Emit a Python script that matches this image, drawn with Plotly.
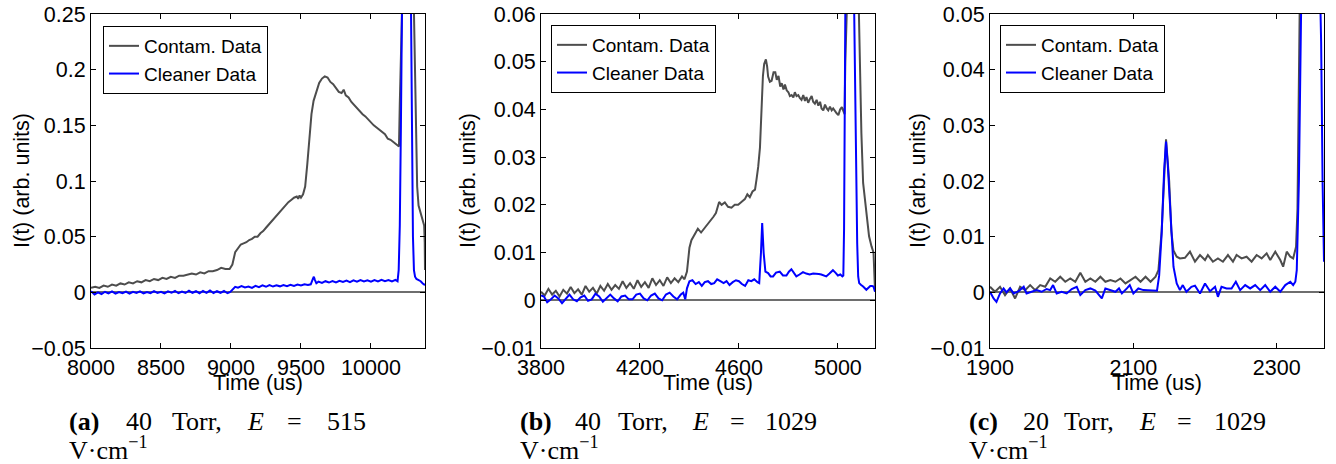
import plotly.graph_objects as go

W, H = 1336, 464

# ---------------- data ----------------
# Panel (a): 40 Torr, E = 515 V/cm
A_CONTAM = [
    (8000, 0.0040), (8030, 0.0050), (8060, 0.0040), (8090, 0.0060), (8120, 0.0050),
    (8150, 0.0070), (8180, 0.0060), (8210, 0.0080), (8240, 0.0070), (8270, 0.0090),
    (8300, 0.0080), (8330, 0.0100), (8360, 0.0090), (8390, 0.0110), (8420, 0.0100),
    (8450, 0.0120), (8480, 0.0110), (8510, 0.0130), (8540, 0.0120), (8570, 0.0140),
    (8600, 0.0130), (8630, 0.0150), (8660, 0.0150), (8690, 0.0160), (8720, 0.0170),
    (8750, 0.0160), (8780, 0.0180), (8810, 0.0170), (8840, 0.0190), (8870, 0.0190),
    (8900, 0.0200), (8930, 0.0220), (8960, 0.0210), (8990, 0.0210), (9010, 0.0250),
    (9030, 0.0360), (9050, 0.0400), (9070, 0.0430), (9090, 0.0440), (9110, 0.0450),
    (9130, 0.0470), (9150, 0.0480), (9170, 0.0500), (9190, 0.0500), (9210, 0.0530),
    (9230, 0.0550), (9250, 0.0580), (9270, 0.0610), (9290, 0.0630), (9310, 0.0670),
    (9330, 0.0700), (9350, 0.0730), (9370, 0.0760), (9390, 0.0790), (9410, 0.0810),
    (9430, 0.0830), (9450, 0.0850), (9470, 0.0860), (9480, 0.0840), (9490, 0.0870),
    (9500, 0.0850), (9515, 0.0880), (9530, 0.0950), (9545, 0.1150), (9560, 0.1400),
    (9575, 0.1600), (9590, 0.1720), (9610, 0.1810), (9630, 0.1880), (9650, 0.1920),
    (9670, 0.1940), (9690, 0.1930), (9710, 0.1890), (9730, 0.1870), (9750, 0.1840),
    (9770, 0.1800), (9790, 0.1790), (9805, 0.1820), (9820, 0.1770), (9840, 0.1750),
    (9860, 0.1710), (9880, 0.1680), (9900, 0.1660), (9920, 0.1630), (9940, 0.1600),
    (9960, 0.1580), (9980, 0.1550), (10000, 0.1530), (10020, 0.1500), (10040, 0.1480),
    (10060, 0.1460), (10080, 0.1440), (10100, 0.1420), (10120, 0.1380), (10140, 0.1370),
    (10160, 0.1350), (10180, 0.1330), (10200, 0.1310), (10206, 0.1700), (10214, 0.2600),
    (10230, 0.4200), (10270, 0.5000), (10300, 0.3000), (10310, 0.2200), (10320, 0.1400),
    (10330, 0.0950), (10340, 0.0780), (10355, 0.0720), (10370, 0.0660), (10380, 0.0600),
    (10384, 0.0450), (10386, 0.0200),
]
A_CLEAN = [
    (8000, 0.0010), (8025, -0.0020), (8050, 0.0000), (8075, -0.0015), (8100, 0.0005),
    (8125, -0.0010), (8150, 0.0008), (8175, -0.0012), (8200, 0.0002), (8225, -0.0008),
    (8250, 0.0006), (8275, -0.0012), (8300, 0.0004), (8325, -0.0006), (8350, 0.0008),
    (8375, -0.0010), (8400, 0.0002), (8425, -0.0008), (8450, 0.0010), (8475, -0.0006),
    (8500, 0.0004), (8525, -0.0010), (8550, 0.0008), (8575, -0.0004), (8600, 0.0012),
    (8625, -0.0008), (8650, 0.0006), (8675, -0.0006), (8700, 0.0014), (8725, -0.0004),
    (8750, 0.0010), (8775, -0.0008), (8800, 0.0012), (8825, -0.0004), (8850, 0.0016),
    (8875, -0.0006), (8900, 0.0010), (8925, -0.0004), (8950, 0.0012), (8975, -0.0008),
    (8995, 0.0004), (9010, 0.0020), (9030, 0.0050), (9050, 0.0042), (9075, 0.0056),
    (9100, 0.0044), (9125, 0.0052), (9150, 0.0040), (9175, 0.0058), (9200, 0.0046),
    (9225, 0.0062), (9250, 0.0050), (9275, 0.0066), (9300, 0.0052), (9325, 0.0064),
    (9350, 0.0054), (9375, 0.0066), (9400, 0.0056), (9425, 0.0068), (9450, 0.0058),
    (9475, 0.0070), (9500, 0.0062), (9525, 0.0072), (9550, 0.0066), (9570, 0.0072),
    (9585, 0.0120), (9592, 0.0140), (9600, 0.0110), (9610, 0.0082), (9625, 0.0096),
    (9650, 0.0084), (9675, 0.0100), (9700, 0.0088), (9725, 0.0102), (9750, 0.0090),
    (9775, 0.0104), (9800, 0.0094), (9825, 0.0106), (9850, 0.0092), (9875, 0.0108),
    (9900, 0.0096), (9925, 0.0110), (9950, 0.0098), (9975, 0.0108), (10000, 0.0096),
    (10025, 0.0110), (10050, 0.0098), (10075, 0.0112), (10100, 0.0100), (10125, 0.0110),
    (10150, 0.0098), (10175, 0.0112), (10190, 0.0100), (10198, 0.0200), (10206, 0.0600),
    (10214, 0.1500), (10222, 0.2600), (10232, 0.4000), (10254, 0.7000), (10276, 0.4000),
    (10284, 0.2500), (10292, 0.1300), (10300, 0.0500), (10307, 0.0200), (10315, 0.0140),
    (10325, 0.0120), (10340, 0.0110), (10355, 0.0100), (10370, 0.0080), (10386, 0.0065),
]
A_XTICKS = [8000, 8500, 9000, 9500, 10000]
A_YTICKS = [-0.05, 0, 0.05, 0.1, 0.15, 0.2, 0.25]
A_YTEXT = ["\u22120.05", "0", "0.05", "0.1", "0.15", "0.2", "0.25"]

# Panel (b): 40 Torr, E = 1029 V/cm
B_CONTAM = [
    (3800, 0.0018), (3815, 0.0010), (3830, 0.0024), (3845, 0.0012), (3860, 0.0020),
    (3875, 0.0008), (3890, 0.0022), (3905, 0.0014), (3920, 0.0028), (3935, 0.0015),
    (3950, 0.0023), (3965, 0.0012), (3980, 0.0030), (3995, 0.0018), (4010, 0.0026),
    (4025, 0.0014), (4040, 0.0030), (4055, 0.0020), (4070, 0.0034), (4085, 0.0022),
    (4100, 0.0032), (4115, 0.0024), (4130, 0.0040), (4145, 0.0026), (4160, 0.0036),
    (4175, 0.0024), (4190, 0.0042), (4205, 0.0028), (4220, 0.0038), (4235, 0.0026),
    (4250, 0.0046), (4265, 0.0032), (4280, 0.0042), (4295, 0.0030), (4310, 0.0048),
    (4325, 0.0036), (4340, 0.0046), (4355, 0.0038), (4370, 0.0050), (4380, 0.0044),
    (4390, 0.0060), (4400, 0.0110), (4408, 0.0126), (4420, 0.0138), (4434, 0.0150),
    (4447, 0.0142), (4460, 0.0150), (4473, 0.0158), (4487, 0.0168), (4497, 0.0175),
    (4507, 0.0183), (4514, 0.0198), (4520, 0.0206), (4530, 0.0200), (4543, 0.0205),
    (4556, 0.0196), (4570, 0.0194), (4583, 0.0200), (4597, 0.0200), (4610, 0.0206),
    (4624, 0.0212), (4634, 0.0222), (4644, 0.0216), (4655, 0.0228), (4665, 0.0232),
    (4671, 0.0253), (4678, 0.0280), (4685, 0.0320), (4691, 0.0420), (4697, 0.0470),
    (4702, 0.0495), (4709, 0.0505), (4714, 0.0490), (4718, 0.0469), (4725, 0.0458),
    (4732, 0.0460), (4740, 0.0478), (4747, 0.0478), (4753, 0.0462), (4760, 0.0470),
    (4767, 0.0448), (4773, 0.0455), (4780, 0.0442), (4786, 0.0452), (4793, 0.0440),
    (4800, 0.0436), (4806, 0.0428), (4813, 0.0430), (4820, 0.0425), (4826, 0.0436),
    (4833, 0.0428), (4840, 0.0430), (4846, 0.0424), (4853, 0.0420), (4860, 0.0430),
    (4867, 0.0418), (4873, 0.0426), (4880, 0.0414), (4887, 0.0422), (4894, 0.0428),
    (4900, 0.0416), (4907, 0.0412), (4914, 0.0420), (4921, 0.0408), (4928, 0.0416),
    (4934, 0.0402), (4941, 0.0398), (4948, 0.0410), (4955, 0.0402), (4961, 0.0398),
    (4968, 0.0406), (4975, 0.0398), (4981, 0.0402), (4988, 0.0396), (4995, 0.0392),
    (5002, 0.0388), (5009, 0.0400), (5016, 0.0405), (5022, 0.0396), (5027, 0.0390),
    (5030, 0.0500), (5040, 0.1000), (5070, 0.1200), (5083, 0.0650), (5090, 0.0450),
    (5095, 0.0350), (5102, 0.0246), (5109, 0.0210), (5116, 0.0183), (5126, 0.0134),
    (5136, 0.0113), (5144, 0.0100), (5150, 0.0020),
]
B_CLEAN = [
    (3800, 0.0010), (3812, 0.0008), (3825, -0.0004), (3840, 0.0002), (3855, 0.0010),
    (3870, 0.0004), (3885, -0.0006), (3900, 0.0004), (3915, 0.0012), (3930, 0.0002),
    (3945, -0.0002), (3960, 0.0006), (3975, 0.0010), (3990, -0.0001), (4005, 0.0002),
    (4020, 0.0014), (4035, 0.0008), (4050, -0.0003), (4065, 0.0004), (4080, 0.0012),
    (4095, 0.0004), (4110, -0.0002), (4125, 0.0008), (4140, 0.0010), (4155, 0.0002),
    (4170, 0.0002), (4185, 0.0012), (4200, 0.0014), (4215, 0.0004), (4230, 0.0000),
    (4245, 0.0010), (4260, 0.0014), (4275, 0.0004), (4290, 0.0000), (4305, 0.0012),
    (4320, 0.0016), (4335, 0.0008), (4350, 0.0002), (4365, 0.0012), (4375, 0.0016),
    (4383, 0.0002), (4390, 0.0025), (4400, 0.0040), (4412, 0.0042), (4425, 0.0034),
    (4438, 0.0038), (4450, 0.0030), (4462, 0.0038), (4475, 0.0040), (4488, 0.0034),
    (4500, 0.0036), (4512, 0.0044), (4525, 0.0040), (4538, 0.0036), (4550, 0.0040),
    (4562, 0.0032), (4575, 0.0038), (4588, 0.0042), (4600, 0.0040), (4612, 0.0034),
    (4625, 0.0030), (4638, 0.0042), (4650, 0.0040), (4662, 0.0044), (4675, 0.0038),
    (4682, 0.0036), (4689, 0.0099), (4694, 0.0162), (4700, 0.0099), (4707, 0.0060),
    (4718, 0.0057), (4728, 0.0050), (4738, 0.0050), (4750, 0.0058), (4765, 0.0060),
    (4778, 0.0052), (4792, 0.0052), (4802, 0.0060), (4812, 0.0065), (4822, 0.0056),
    (4832, 0.0050), (4845, 0.0054), (4859, 0.0059), (4872, 0.0056), (4886, 0.0054),
    (4900, 0.0056), (4913, 0.0056), (4923, 0.0055), (4933, 0.0054), (4943, 0.0052),
    (4953, 0.0050), (4966, 0.0056), (4980, 0.0063), (4990, 0.0058), (5000, 0.0052),
    (5010, 0.0054), (5018, 0.0050), (5022, 0.0052), (5025, 0.0150), (5030, 0.0600),
    (5048, 0.1200), (5066, 0.0600), (5072, 0.0300), (5078, 0.0120), (5082, 0.0050),
    (5086, 0.0036), (5094, 0.0032), (5102, 0.0029), (5115, 0.0022), (5123, 0.0026),
    (5131, 0.0030), (5138, 0.0030), (5144, 0.0029), (5150, 0.0018),
]
B_XTICKS = [3800, 4200, 4600, 5000]
B_YTICKS = [-0.01, 0, 0.01, 0.02, 0.03, 0.04, 0.05, 0.06]
B_YTEXT = ["\u22120.01", "0", "0.01", "0.02", "0.03", "0.04", "0.05", "0.06"]

# Panel (c): 20 Torr, E = 1029 V/cm
C_CONTAM = [
    (1900, 0.0010), (1907, 0.0001), (1914, 0.0010), (1921, -0.0005), (1928, 0.0007),
    (1935, -0.0011), (1942, 0.0010), (1949, 0.0004), (1956, 0.0013), (1963, 0.0004),
    (1970, 0.0013), (1977, 0.0010), (1984, 0.0025), (1991, 0.0019), (1998, 0.0028),
    (2005, 0.0019), (2012, 0.0025), (2019, 0.0019), (2026, 0.0035), (2033, 0.0019),
    (2040, 0.0025), (2047, 0.0019), (2054, 0.0028), (2061, 0.0019), (2068, 0.0022),
    (2075, 0.0019), (2082, 0.0025), (2089, 0.0016), (2096, 0.0022), (2103, 0.0028),
    (2110, 0.0019), (2117, 0.0028), (2124, 0.0019), (2131, 0.0028), (2135, 0.0040),
    (2139.5, 0.0110), (2145.6, 0.0275), (2150, 0.0200), (2153, 0.0110), (2156, 0.0075),
    (2160.5, 0.0064), (2165, 0.0061), (2172, 0.0062), (2179, 0.0073), (2186, 0.0055),
    (2193, 0.0067), (2200, 0.0058), (2204, 0.0067), (2211, 0.0055), (2218, 0.0061),
    (2225, 0.0055), (2232, 0.0067), (2239, 0.0055), (2244, 0.0067), (2251, 0.0061),
    (2258, 0.0064), (2265, 0.0055), (2272, 0.0067), (2279, 0.0061), (2286, 0.0070),
    (2291, 0.0058), (2298, 0.0073), (2305, 0.0058), (2309, 0.0046), (2314, 0.0073),
    (2319, 0.0064), (2323, 0.0061), (2327, 0.0082), (2329, 0.0150), (2332, 0.0500),
    (2340, 0.1000), (2366, 0.1000),
]
C_CLEAN = [
    (1900, 0.0001), (1905, -0.0011), (1909, -0.0017), (1914, -0.0002), (1919, 0.0007),
    (1923, 0.0000), (1928, 0.0007), (1933, -0.0002), (1940, 0.0002), (1947, 0.0010),
    (1951, -0.0002), (1958, 0.0001), (1965, 0.0004), (1972, 0.0001), (1979, 0.0006),
    (1984, 0.0004), (1988, 0.0013), (1993, -0.0002), (2000, 0.0001), (2007, -0.0002),
    (2014, 0.0006), (2021, 0.0010), (2026, -0.0005), (2033, 0.0004), (2040, 0.0007),
    (2047, 0.0003), (2056, -0.0011), (2061, 0.0007), (2068, 0.0004), (2075, 0.0001),
    (2080, 0.0007), (2084, -0.0002), (2091, 0.0007), (2095, 0.0013), (2100, -0.0002),
    (2107, 0.0007), (2114, 0.0004), (2121, 0.0004), (2128, 0.0004), (2133, 0.0003),
    (2136, 0.0030), (2139.5, 0.0106), (2143, 0.0220), (2145.6, 0.0271), (2148, 0.0230),
    (2151, 0.0166), (2156, 0.0046), (2160.5, 0.0016), (2165, 0.0004), (2169, 0.0013),
    (2174, 0.0001), (2181, 0.0010), (2186, 0.0012), (2193, -0.0002), (2200, 0.0016),
    (2207, 0.0002), (2214, 0.0010), (2218, -0.0008), (2223, 0.0010), (2230, 0.0007),
    (2237, 0.0007), (2243, 0.0019), (2249, 0.0004), (2256, 0.0013), (2263, 0.0007),
    (2270, 0.0013), (2277, 0.0004), (2284, 0.0013), (2291, 0.0001), (2298, 0.0010),
    (2305, 0.0001), (2312, 0.0013), (2319, 0.0019), (2323, 0.0013), (2326, 0.0019),
    (2328, 0.0040), (2331, 0.0200), (2334, 0.0500), (2342, 0.0900), (2350, 0.1000),
    (2358, 0.0700), (2362, 0.0450), (2364, 0.0200), (2366, 0.0055),
]
C_XTICKS = [1900, 2100, 2300]
C_YTICKS = [-0.01, 0, 0.01, 0.02, 0.03, 0.04, 0.05]
C_YTEXT = ["\u22120.01", "0", "0.01", "0.02", "0.03", "0.04", "0.05"]

SERIES_NAMES = ["Contam. Data", "Cleaner Data"]
CAPTION_WORDS = [
    ["<b>(a)</b>", "40", "Torr,", "<i>E</i>", "=", "515"],
    ["<b>(b)</b>", "40", "Torr,", "<i>E</i>", "=", "1029"],
    ["<b>(c)</b>", "20", "Torr,", "<i>E</i>", "=", "1029"],
]
CAPTION_LINE2 = "V\u00b7cm<sup>\u22121</sup>"

# ---------------- layout / style ----------------
GRAY = "#4d4d4d"
BLUE = "#0000ff"
SANS = "Liberation Sans, Arial, Helvetica, sans-serif"
SERIF = "Liberation Serif, Times New Roman, serif"
TICK_SIZE = 21.5
TITLE_SIZE = 21.5
LEGEND_SIZE = 19
CAPTION_SIZE = 26

panels = [
    dict(contam=A_CONTAM, clean=A_CLEAN, xr=[8000, 10386], yr=[-0.05, 0.25],
         xt=A_XTICKS, yt=A_YTICKS, ytt=A_YTEXT, px=(91, 425), leg=(103, 26),
         ytitle_x=22, cap_x=[67, 124, 170, 245, 285, 325]),
    dict(contam=B_CONTAM, clean=B_CLEAN, xr=[3800, 5150], yr=[-0.01, 0.06],
         xt=B_XTICKS, yt=B_YTICKS, ytt=B_YTEXT, px=(541, 875), leg=(551, 25),
         ytitle_x=468, cap_x=[518, 573, 616, 690, 728, 763]),
    dict(contam=C_CONTAM, clean=C_CLEAN, xr=[1900, 2366], yr=[-0.01, 0.05],
         xt=C_XTICKS, yt=C_YTICKS, ytt=C_YTEXT, px=(990, 1324), leg=(1000, 25),
         ytitle_x=918, cap_x=[967, 1021, 1062, 1137, 1175, 1212]),
]

PLOT_TOP, PLOT_BOTTOM = 14, 348

fig = go.Figure()
layout = dict(
    width=W, height=H, margin=dict(l=0, r=0, t=0, b=0, autoexpand=False),
    paper_bgcolor="white", plot_bgcolor="white",
    font=dict(family=SANS, size=20, color="black"),
    showlegend=True, hovermode=False,
)
annotations = []

for i, p in enumerate(panels):
    sfx = "" if i == 0 else str(i + 1)
    xa, ya, lg = "x" + sfx, "y" + sfx, "legend" + sfx
    ct = [t for t, _ in p["contam"]]
    cv = [v for _, v in p["contam"]]
    kt = [t for t, _ in p["clean"]]
    kv = [v for _, v in p["clean"]]
    fig.add_trace(go.Scatter(x=ct, y=cv, mode="lines", name=SERIES_NAMES[0],
                             line=dict(color=GRAY, width=2), xaxis=xa, yaxis=ya, legend=lg))
    fig.add_trace(go.Scatter(x=kt, y=kv, mode="lines", name=SERIES_NAMES[1],
                             line=dict(color=BLUE, width=2), xaxis=xa, yaxis=ya, legend=lg))

    x0, x1 = p["px"]
    layout["xaxis" + sfx] = dict(
        domain=[x0 / W, x1 / W], range=p["xr"], anchor=ya, automargin=False,
        showgrid=False, zeroline=False, showline=True, linecolor="black", linewidth=1,
        mirror="ticks", ticks="inside", ticklen=5, tickcolor="black",
        tickmode="array", tickvals=p["xt"], ticktext=[str(v) for v in p["xt"]],
        tickfont=dict(family=SANS, size=TICK_SIZE, color="black"),
    )
    layout["yaxis" + sfx] = dict(
        domain=[1 - PLOT_BOTTOM / H, 1 - PLOT_TOP / H], range=p["yr"], anchor=xa,
        automargin=False,
        showgrid=False, zeroline=True, zerolinecolor="#6e6e6e", zerolinewidth=1.5,
        showline=True, linecolor="black", linewidth=1,
        mirror="ticks", ticks="inside", ticklen=5, tickcolor="black",
        tickmode="array", tickvals=p["yt"], ticktext=p["ytt"],
        tickfont=dict(family=SANS, size=TICK_SIZE, color="black"),
    )
    lx, ly = p["leg"]
    layout[lg] = dict(
        x=lx / W, y=1 - ly / H, xanchor="left", yanchor="top",
        bgcolor="white", bordercolor="black", borderwidth=1,
        font=dict(family=SANS, size=LEGEND_SIZE, color="black"),
        itemwidth=30, tracegroupgap=0,
    )
    # axis titles
    annotations.append(dict(
        text="Time (us)", xref="paper", yref="paper",
        x=(x0 + x1) / 2 / W, y=1 - 383 / H, xanchor="center", yanchor="middle",
        showarrow=False, font=dict(family=SANS, size=TITLE_SIZE, color="black")))
    annotations.append(dict(
        text="I(t) (arb. units)", xref="paper", yref="paper", textangle=-90,
        x=p["ytitle_x"] / W, y=1 - (PLOT_TOP + PLOT_BOTTOM) / 2 / H,
        xanchor="center", yanchor="middle",
        showarrow=False, font=dict(family=SANS, size=TITLE_SIZE, color="black")))
    # caption, word by word (justified text)
    for word, wx in zip(CAPTION_WORDS[i], p["cap_x"]):
        annotations.append(dict(
            text=word, xref="paper", yref="paper", x=wx / W, y=1 - 421 / H,
            xanchor="left", yanchor="middle", showarrow=False,
            font=dict(family=SERIF, size=CAPTION_SIZE, color="black")))
    annotations.append(dict(
        text=CAPTION_LINE2, xref="paper", yref="paper", x=p["cap_x"][0] / W, y=1 - 448 / H,
        xanchor="left", yanchor="middle", showarrow=False,
        font=dict(family=SERIF, size=CAPTION_SIZE, color="black")))

layout["annotations"] = annotations
fig.update_layout(**layout)
fig.write_html("out.html")
